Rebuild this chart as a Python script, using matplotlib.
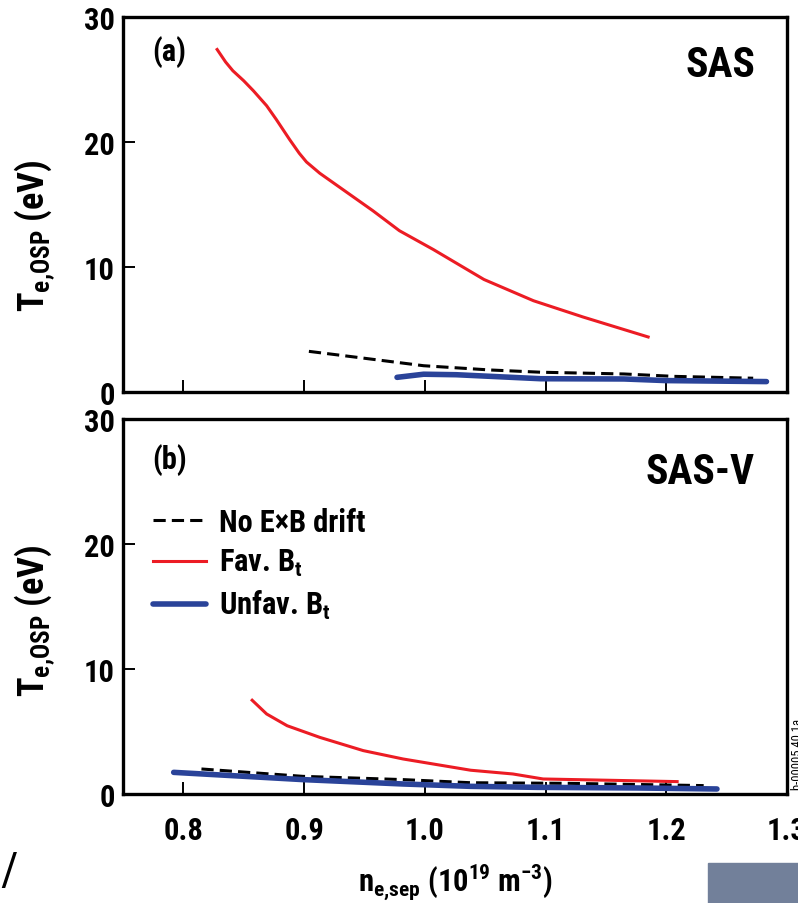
import matplotlib
matplotlib.use("Agg")
import matplotlib.pyplot as plt
from matplotlib import font_manager
from matplotlib.patches import Rectangle

# data
# (a) SAS
sas_fav_x = [0.828, 0.835, 0.841, 0.850, 0.858, 0.869, 0.877, 0.888, 0.896, 0.902, 0.913,
             0.935, 0.957, 0.979, 1.007, 1.049, 1.090, 1.131, 1.185]
sas_fav_y = [27.4, 26.4, 25.7, 24.9, 24.1, 22.9, 21.8, 20.2, 19.1, 18.4, 17.5,
             16.0, 14.5, 12.9, 11.4, 9.0, 7.3, 6.0, 4.4]
sas_noexb_x = [0.904, 0.944, 0.999, 1.054, 1.096, 1.165, 1.206, 1.272]
sas_noexb_y = [3.25, 2.77, 2.10, 1.76, 1.58, 1.44, 1.25, 1.10]
sas_unfav_x = [0.977, 0.999, 1.026, 1.096, 1.165, 1.200, 1.283]
sas_unfav_y = [1.17, 1.42, 1.38, 1.06, 1.04, 0.91, 0.83]

# (b) SAS-V
sasv_fav_x = [0.857, 0.869, 0.886, 0.913, 0.949, 0.982, 1.038, 1.073, 1.098, 1.209]
sasv_fav_y = [7.5, 6.4, 5.46, 4.53, 3.47, 2.8, 1.9, 1.6, 1.2, 0.99]
sasv_noexb_x = [0.815, 0.899, 0.982, 1.038, 1.120, 1.231]
sasv_noexb_y = [2.0, 1.41, 1.15, 0.9, 0.85, 0.67]
sasv_unfav_x = [0.792, 0.899, 0.982, 1.038, 1.093, 1.176, 1.242]
sasv_unfav_y = [1.73, 1.15, 0.80, 0.61, 0.53, 0.48, 0.40]

xticks = [0.8, 0.9, 1.0, 1.1, 1.2, 1.3]
xticklabels = ['0.8', '0.9', '1.0', '1.1', '1.2', '1.3']
yticks = [0, 10, 20, 30]

# narrow sans if one is installed, else condensed DejaVu
names = {f.name for f in font_manager.fontManager.ttflist}
fam = 'DejaVu Sans'
for cand in ['Liberation Sans Narrow', 'Roboto Condensed', 'Open Sans Condensed', 'DejaVu Sans Condensed']:
    if cand in names:
        fam = cand
        break
plt.rcParams['font.family'] = [fam, 'DejaVu Sans']
plt.rcParams['font.stretch'] = 'condensed'
plt.rcParams['font.weight'] = 'bold'
plt.rcParams['axes.labelweight'] = 'bold'

RED = '#ec1c24'
BLUE = '#2a4399'

fig = plt.figure(figsize=(7.98, 9.04), dpi=100)
ax1 = fig.add_axes([0.1541, 0.5653, 0.8321, 0.4148])
ax2 = fig.add_axes([0.1541, 0.1206, 0.8321, 0.4148])

panels = [
    (ax1, sas_noexb_x, sas_noexb_y, sas_fav_x, sas_fav_y, sas_unfav_x, sas_unfav_y, 0.42),
    (ax2, sasv_noexb_x, sasv_noexb_y, sasv_fav_x, sasv_fav_y, sasv_unfav_x, sasv_unfav_y, 0.465),
]
for ax, nx, ny, fx, fy, ux, uy, ly in panels:
    ax.plot(nx, ny, color='black', lw=2.2, dashes=(4, 2), label='No E×B drift')
    ax.plot(fx, fy, color=RED, lw=2.2, label=r'Fav. B$_\mathregular{t}$')
    ax.plot(ux, uy, color=BLUE, lw=4, solid_capstyle='round', label=r'Unfav. B$_\mathregular{t}$')
    ax.set_xlim(0.75, 1.30)
    ax.set_ylim(0, 30)
    ax.set_xticks(xticks)
    ax.set_yticks(yticks)
    ax.tick_params(direction='in', length=8.5, width=1.4, labelsize=22, top=False, right=False)
    ax.tick_params(axis='y', pad=6)
    ax.tick_params(axis='x', pad=15)
    for s in ax.spines.values():
        s.set_linewidth(2.4)
    ax.set_ylabel(r'T$_\mathregular{e{,}OSP}$ (eV)', fontsize=26)
    ax.yaxis.set_label_coords(-0.1, ly)

ax1.set_xticklabels([])
ax2.set_xticklabels(xticklabels)
ax2.set_xlabel(r'n$_\mathregular{e{,}sep}$ (10$^\mathregular{19}$ m$^\mathregular{-3}$)', fontsize=22, labelpad=12)

ax1.text(0.044, 0.909, '(a)', transform=ax1.transAxes, fontsize=22, ha='left', va='center')
ax1.text(0.952, 0.872, 'SAS', transform=ax1.transAxes, fontsize=30, ha='right', va='center')
ax2.text(0.044, 0.893, '(b)', transform=ax2.transAxes, fontsize=22, ha='left', va='center')
ax2.text(0.951, 0.861, 'SAS-V', transform=ax2.transAxes, fontsize=30, ha='right', va='center')

ax2.legend(loc='upper left', bbox_to_anchor=(0.045, 0.765), frameon=False, fontsize=22,
           handlelength=1.75, handletextpad=0.4, labelspacing=0.33, borderaxespad=0, borderpad=0)

# bits of the page around the figure
fig.patches.append(Rectangle((0.887, 0.0), 0.12, 0.044, transform=fig.transFigure,
                             color='#72809a', zorder=0))
fig.text(0.0, 0.035, '/', fontsize=34, fontweight='normal', ha='left', va='center')
fig.text(0.999, 0.165, 'b-00005 40 1a', fontsize=9, fontweight='normal', rotation=90,
         ha='center', va='center')

fig.savefig('out.png', dpi=100)
